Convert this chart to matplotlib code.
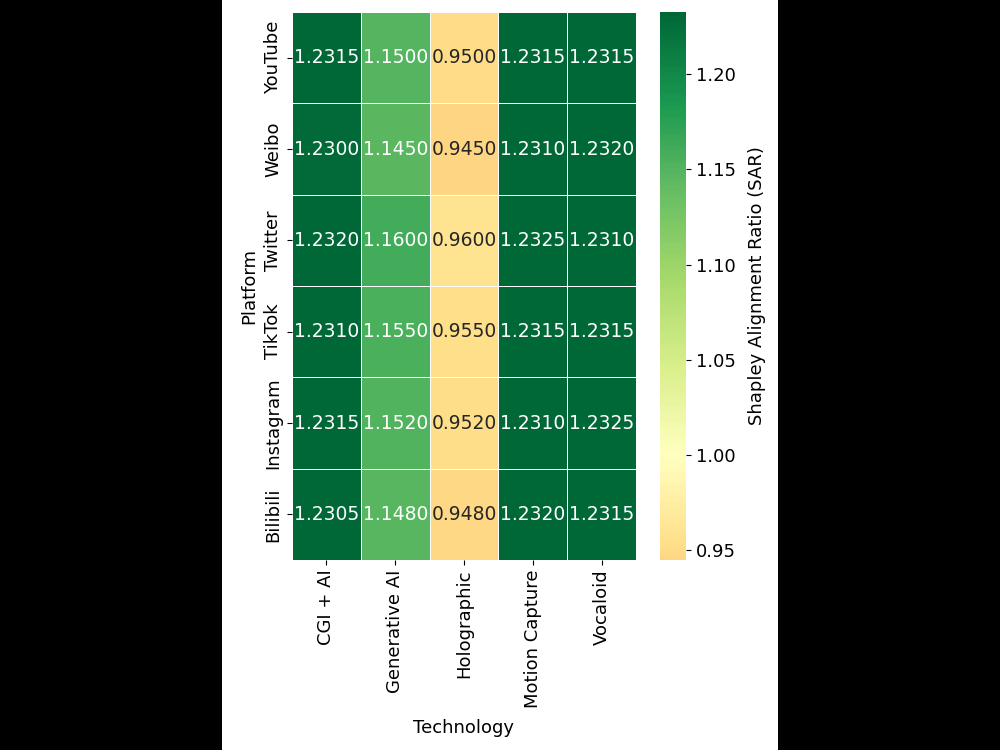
import matplotlib
matplotlib.use("Agg")
import matplotlib.pyplot as plt
import matplotlib.patches as mpatches
import numpy as np
import seaborn as sns

platforms = ["YouTube", "Weibo", "Twitter", "TikTok", "Instagram", "Bilibili"]
technologies = ["CGI + AI", "Generative AI", "Holographic", "Motion Capture", "Vocaloid"]

youtube = [1.2315, 1.1500, 0.9500, 1.2315, 1.2315]
weibo = [1.2300, 1.1450, 0.9450, 1.2310, 1.2320]
twitter = [1.2320, 1.1600, 0.9600, 1.2325, 1.2310]
tiktok = [1.2310, 1.1550, 0.9550, 1.2315, 1.2315]
instagram = [1.2315, 1.1520, 0.9520, 1.2310, 1.2325]
bilibili = [1.2305, 1.1480, 0.9480, 1.2320, 1.2315]

data = np.array([youtube, weibo, twitter, tiktok, instagram, bilibili])

fig = plt.figure(figsize=(10, 7.5), dpi=100)
fig.patch.set_facecolor("black")
# white page in the middle (letterboxed)
fig.add_artist(mpatches.Rectangle((0.222, 0), 0.556, 1, transform=fig.transFigure,
                                  facecolor="white", edgecolor="none", zorder=-10))

ax = fig.add_axes([0.292, 0.2533, 0.344, 0.7307])
cax = fig.add_axes([0.660, 0.2533, 0.026, 0.7307])

sns.heatmap(data, ax=ax, cbar_ax=cax, cmap="RdYlGn", center=1.0,
            annot=True, fmt=".4f", annot_kws={"fontsize": 13.5},
            linewidths=0.65, linecolor="white",
            xticklabels=technologies, yticklabels=platforms,
            cbar_kws={"label": "Shapley Alignment Ratio (SAR)"})

ax.set_xlabel("Technology", fontsize=13, labelpad=8)
ax.set_ylabel("Platform", fontsize=13)
ax.tick_params(axis="both", labelsize=13)
plt.setp(ax.get_xticklabels(), rotation=90)
plt.setp(ax.get_yticklabels(), rotation=90, va="center")
cax.tick_params(labelsize=13)
cax.set_ylabel("Shapley Alignment Ratio (SAR)", fontsize=13, labelpad=9)

fig.savefig("out.png", dpi=100, facecolor=fig.get_facecolor())
